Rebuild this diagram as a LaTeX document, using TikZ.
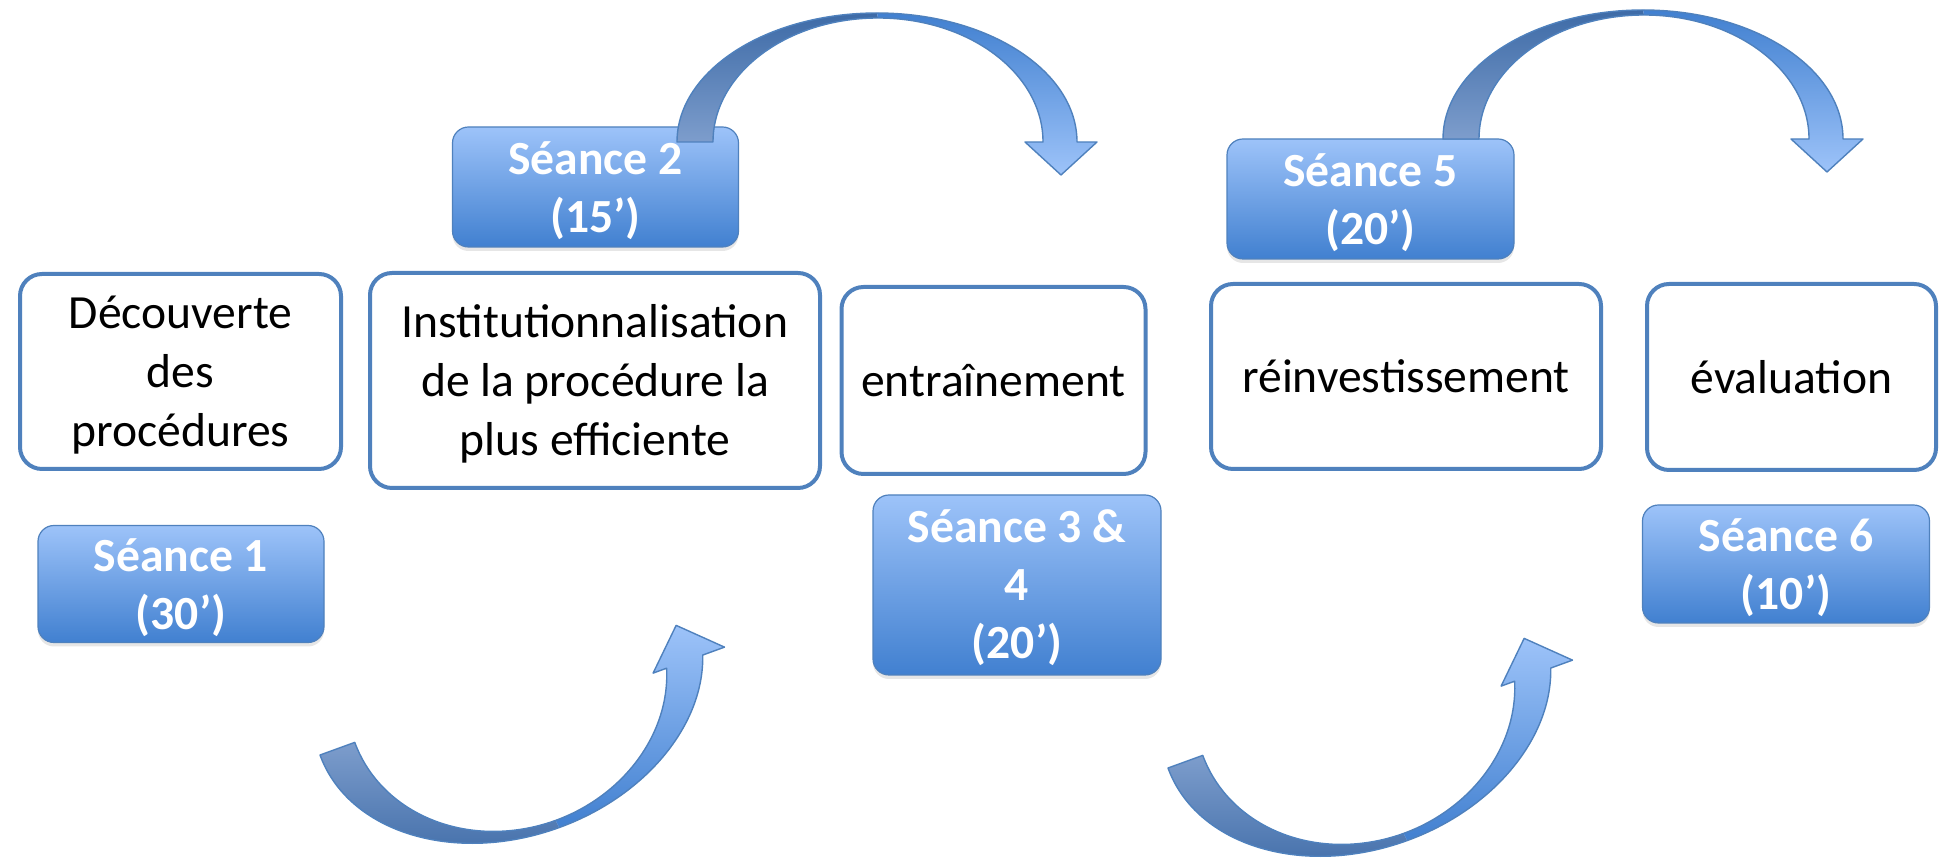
\documentclass[tikz,border=0pt]{standalone}
\usepackage{fontspec}
\setmainfont{Carlito}
\usetikzlibrary{shadows}
\definecolor{edgeB}{HTML}{4F81BD}
\definecolor{seaTop}{HTML}{9DC3F9}
\definecolor{seaMid}{HTML}{76A6E8}
\definecolor{seaBot}{HTML}{4180D0}
\definecolor{backTop}{HTML}{3E6BA7}
\definecolor{backBot}{HTML}{7D9DCC}

\begin{document}
\begin{tikzpicture}[x=.5pt,y=.5pt,line join=round,
  font=\fontsize{23.8}{29.5}\selectfont,
  phase/.style={draw=edgeB,line width=2pt,rounded corners=11pt,
    fill=white,align=center,inner sep=0pt},
  seance/.style={draw=edgeB,line width=.6pt,rounded corners=8pt,
    top color=seaTop,middle color=seaMid,bottom color=seaBot,
    text=white,font=\fontsize{23.8}{29}\selectfont\bfseries,
    align=center,inner sep=0pt,
    drop shadow={opacity=.2,shadow xshift=0pt,shadow yshift=-2pt}},
  low/.style={text depth=#1}]
  % curved arrow over the top
  \def\topArc#1{%
    \begin{scope}[shift={#1}]
      \shade[top color=backTop,bottom color=backBot]
        (0,0) arc[start angle=180,end angle=90,x radius=200,y radius=129]
        -- (201,124) arc[start angle=90,end angle=180,x radius=165,y radius=124]
        -- cycle;
      \shade[top color=seaBot,bottom color=seaTop]
        (200,129) arc[start angle=90,end angle=0,x radius=200,y radius=129]
        -- (420,0) -- (384,-33) -- (348,0) -- (366,0)
        arc[start angle=0,end angle=90,x radius=165,y radius=124] -- cycle;
      \draw[edgeB,line width=.7pt]
        (0,0) arc[start angle=180,end angle=0,x radius=200,y radius=129]
        -- (420,0) -- (384,-33) -- (348,0) -- (366,0)
        arc[start angle=0,end angle=180,x radius=165,y radius=124] -- cycle;
    \end{scope}}
  % curved arrow underneath
  \def\botArc#1{%
    \begin{scope}[shift={#1},rotate=20]
      \shade[top color=backBot,bottom color=backTop]
        (0,0) arc[start angle=180,end angle=270,x radius=200,y radius=150]
        -- (199,-142) arc[start angle=270,end angle=180,x radius=162,y radius=142]
        -- cycle;
      \shade[top color=seaTop,bottom color=seaBot]
        (200,-150) arc[start angle=270,end angle=345.72,x radius=200,y radius=150]
        -- (417,-37) -- (379,0) -- (341,-37) -- (355.4,-37)
        arc[start angle=344.9,end angle=270,x radius=162,y radius=142] -- cycle;
      \draw[edgeB,line width=.7pt]
        (0,0) arc[start angle=180,end angle=345.72,x radius=200,y radius=150]
        -- (417,-37) -- (379,0) -- (341,-37) -- (355.4,-37)
        arc[start angle=344.9,end angle=180,x radius=162,y radius=142] -- cycle;
    \end{scope}}
  \useasboundingbox (0,0) rectangle (1939,861);
  % phases
  \node[phase,low=-2pt,minimum width=160.5pt,minimum height=97.5pt] (decouv) at (180.5,489.5)
    {Découverte\\des\\procédures};
  \node[phase,low=1pt,minimum width=225pt,minimum height=107.5pt] (instit) at (595,480.5)
    {Institutionnalisation\\de la procédure la\\plus efficiente};
  \node[phase,minimum width=152pt,minimum height=93.5pt] (entrain) at (993.5,480.5)
    {entraînement};
  \node[phase,minimum width=195pt,minimum height=92.5pt] (reinv) at (1406,484.5)
    {réinvestissement};
  \node[phase,minimum width=144.5pt,minimum height=93pt] (evalu) at (1791.5,484)
    {évaluation};
  % seances
  \node[seance,low=-2pt,minimum width=143pt,minimum height=58.5pt] (s1) at (181,277)
    {Séance 1\\(30’)};
  \node[seance,low=-2pt,minimum width=143pt,minimum height=60pt] (s2) at (595.5,674)
    {Séance 2\\(15’)};
  \node[seance,low=1pt,minimum width=144pt,minimum height=90pt] (s34) at (1017,276)
    {Séance 3 \&\\4\\(20’)};
  \node[seance,low=-2pt,minimum width=143.5pt,minimum height=60pt] (s5) at (1370.5,662)
    {Séance 5\\(20’)};
  \node[seance,low=-2pt,minimum width=143.5pt,minimum height=59pt] (s6) at (1786,297)
    {Séance 6\\(10’)};
  % arrows
  \topArc{(677,719)}
  \topArc{(1443,722)}
  \botArc{(320,106)}
  \botArc{(1168,93)}
\end{tikzpicture}
\end{document}
